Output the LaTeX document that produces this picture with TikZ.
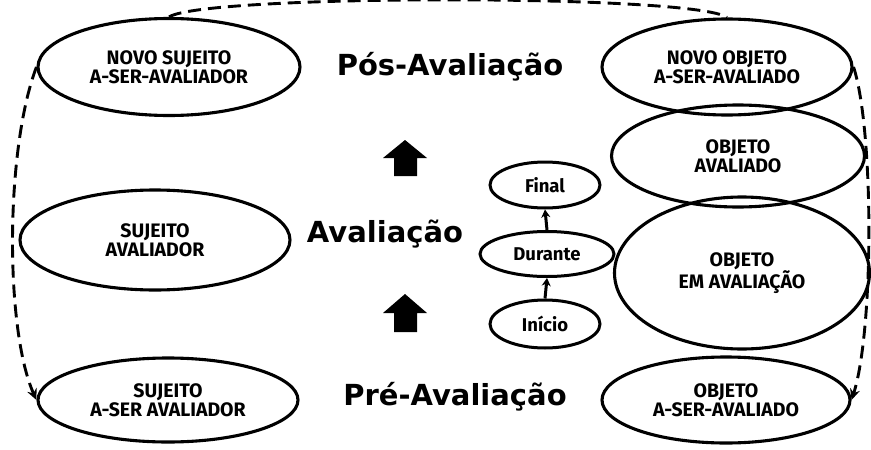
\documentclass[tikz,border=0pt]{standalone}
\usepackage{fontspec}
\newfontfamily\nodefont{Fira Sans}
\newfontfamily\titlefont{DejaVu Sans}
\usetikzlibrary{shapes.geometric,arrows.meta}
\begin{document}
\begin{tikzpicture}[x=1pt,y=-1pt,
  ell/.style={draw, ellipse, line width=3.1pt, inner sep=0pt, align=center,
    font=\nodefont\bfseries\fontsize{19.5}{19}\selectfont},
  smallell/.style={draw, ellipse, line width=3pt, inner sep=0pt, align=center,
    font=\nodefont\bfseries\fontsize{18.5}{19}\selectfont},
  titletext/.style={anchor=base, inner sep=0pt, font=\titlefont\bfseries\fontsize{29}{32}\selectfont},
  dashconn/.style={dash pattern=on 13pt off 7pt, line width=2.9pt, -{Stealth[length=11pt,width=10pt]}},
  dashplain/.style={dash pattern=on 13pt off 7pt, line width=2.9pt},
  smallarrow/.style={line width=3pt, -{Stealth[length=8pt,width=9pt]}},
  blockarrow/.style={fill=black}
]
\useasboundingbox (0,0) rectangle (871,450);

% left column
\node[ell, minimum width=262pt, minimum height=97pt] (nsuj) at (169,67) {NOVO SUJEITO\\A-SER-AVALIADOR};
\node[ell, minimum width=270pt, minimum height=100pt] (suj) at (155,240) {SUJEITO\\AVALIADOR};
\node[ell, minimum width=260pt, minimum height=84pt] (sujA) at (168,400) {SUJEITO\\A-SER AVALIADOR};

% right column
\node[ell, minimum width=250pt, minimum height=96pt] (nobj) at (727,67) {NOVO OBJETO\\A-SER-AVALIADO};
\node[ell, minimum width=253pt, minimum height=102pt] (objav) at (738,156) {OBJETO\\AVALIADO};
\node[ell, minimum width=255pt, minimum height=152pt] (objem) at (742,273) {OBJETO\\EM AVALIAÇÃO};
\node[ell, minimum width=248pt, minimum height=86pt] (obj) at (726,400) {OBJETO\\A-SER-AVALIADO};

% titles
\node[titletext] (pos) at (450,75) {Pós-Avaliação};
\node[titletext] (aval) at (385,242) {Avaliação};
\node[titletext] (pre) at (455,405) {Pré-Avaliação};

% small ellipses
\node[smallell, minimum width=110pt, minimum height=46pt] (final) at (545,185) {Final};
\node[smallell, minimum width=134pt, minimum height=45pt] (durante) at (547,254) {Durante};
\node[smallell, minimum width=110pt, minimum height=48pt] (inicio) at (545,324) {Início};

\draw[smallarrow] (inicio.north) -- (durante.south);
\draw[smallarrow] (durante.north) -- (final.south);

% block arrows
\fill[blockarrow] (405,140) -- (427,158) -- (417,158) -- (417,176) -- (394,176) -- (394,158) -- (383,158) -- cycle;
\fill[blockarrow] (405,294) -- (427,313) -- (417,313) -- (417,332) -- (394,332) -- (394,313) -- (383,313) -- cycle;

% dashed connectors
\draw[dashplain] (nsuj.north) .. controls (205,-6) and (695,-6) .. (nobj.north);
\draw[dashconn] (nsuj.west) .. controls (5,150) and (5,330) .. (sujA.west);
\draw[dashconn] (nobj.east) .. controls (874,130) and (874,330) .. (obj.east);
\end{tikzpicture}
\end{document}
